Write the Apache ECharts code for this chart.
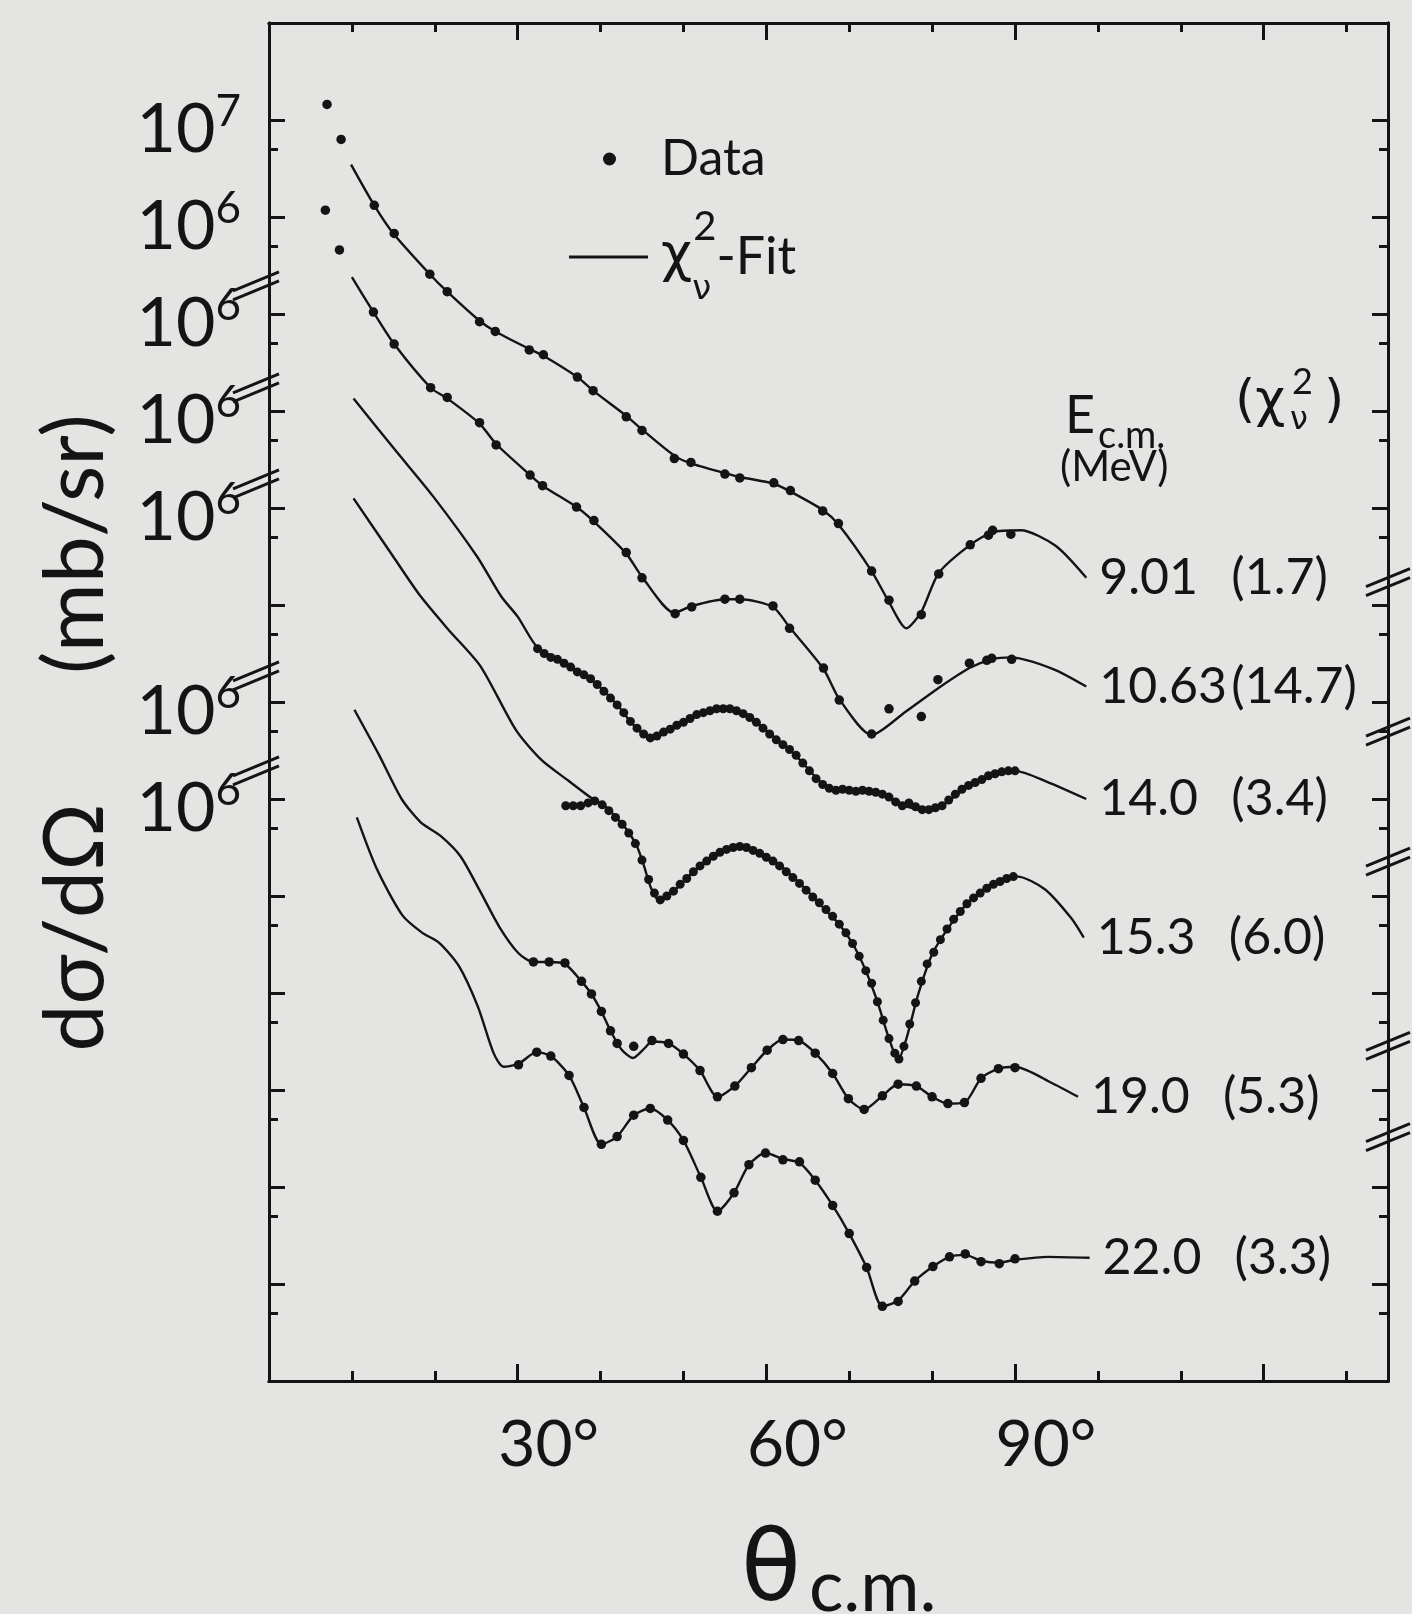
<!DOCTYPE html>
<html>
<head>
<meta charset="utf-8">
<script src="https://cdn.jsdelivr.net/npm/echarts@6/dist/echarts.min.js"></script>
<style>
  html, body { margin: 0; padding: 0; background: #e4e4e2; }
  #chart { width: 1412px; height: 1614px; }
</style>
</head>
<body>
<div id="chart"></div>
<script>
// theta c.m. in degrees, value = log10 of dσ/dΩ in mb/sr
const energies = ["9.01", "10.63", "14.0", "15.3", "19.0", "22.0"];
const chi2 = ["1.7", "14.7", "3.4", "6.0", "5.3", "3.3"];
// decades each curve is shifted up on the stacked axis
const offsets = [6, 5, 4, 3, 1, 0];

const dots901 = [[7.0,7.16],[8.7,6.80],[12.7,6.12],[15.1,5.83],[19.4,5.41],[21.5,5.23],[25.4,4.92],[27.3,4.82],[31.4,4.63],[33.1,4.58],[37.2,4.35],[39.1,4.21],[43.1,3.94],[45.0,3.80],[48.9,3.51],[50.9,3.47],[55.0,3.35],[56.8,3.31],[60.9,3.26],[62.9,3.18],[66.8,2.97],[68.7,2.84],[72.7,2.35],[74.8,2.05],[78.7,1.90],[80.8,2.32],[84.6,2.62],[86.8,2.72],[87.3,2.77],[89.5,2.73]];
const fit901 = [[9.9,6.54],[12.7,6.12],[15.0,5.83],[19.4,5.41],[21.5,5.23],[25.4,4.93],[27.3,4.82],[31.4,4.64],[33.1,4.57],[37.2,4.35],[39.1,4.21],[43.1,3.95],[45.0,3.81],[48.9,3.54],[50.9,3.46],[55.0,3.36],[56.8,3.32],[60.9,3.25],[62.9,3.17],[66.8,2.98],[68.7,2.83],[72.7,2.35],[74.8,2.03],[76.9,1.76],[78.7,1.93],[80.8,2.33],[84.6,2.62],[87.3,2.75],[90.7,2.77],[94.9,2.61],[98.6,2.28]];

const dots1063 = [[6.8,7.07],[8.5,6.66],[12.6,6.02],[15.1,5.69],[19.5,5.24],[21.5,5.14],[25.4,4.88],[27.4,4.65],[31.5,4.34],[33.0,4.23],[37.1,4.01],[39.2,3.87],[43.1,3.54],[45.0,3.28],[49.0,2.91],[51.0,2.98],[55.0,3.06],[56.8,3.06],[60.8,2.99],[62.8,2.76],[66.9,2.35],[68.8,2.02],[72.7,1.67],[74.8,1.93],[78.7,1.85],[80.7,2.23],[84.5,2.40],[86.6,2.43],[87.2,2.45],[89.6,2.44]];
const fit1063 = [[10.0,6.38],[12.6,6.02],[15.1,5.69],[19.5,5.24],[21.5,5.13],[25.4,4.87],[27.4,4.66],[31.5,4.34],[33.0,4.23],[37.1,4.01],[39.2,3.86],[43.1,3.53],[45.0,3.29],[48.9,2.92],[51.0,2.99],[55.0,3.06],[56.8,3.06],[60.8,2.98],[62.8,2.77],[66.9,2.34],[68.8,2.03],[72.7,1.66],[76.8,1.90],[80.7,2.14],[84.5,2.35],[87.2,2.44],[89.5,2.46],[94.6,2.34],[98.6,2.16]];

const dots140 = [[32.4,3.55],[33.2,3.50],[34.0,3.46],[34.8,3.44],[35.6,3.40],[36.4,3.36],[37.2,3.31],[38.0,3.28],[38.8,3.24],[39.6,3.18],[40.4,3.11],[41.2,3.04],[42.0,2.97],[42.8,2.89],[43.6,2.80],[44.4,2.73],[45.2,2.67],[46.0,2.63],[46.8,2.65],[47.6,2.69],[48.4,2.72],[49.2,2.76],[50.0,2.79],[50.8,2.83],[51.6,2.87],[52.4,2.89],[53.2,2.91],[54.0,2.93],[54.8,2.93],[55.6,2.93],[56.4,2.91],[57.2,2.88],[58.0,2.84],[58.8,2.79],[59.6,2.73],[60.4,2.67],[61.2,2.61],[62.0,2.56],[62.8,2.51],[63.6,2.45],[64.4,2.37],[65.2,2.29],[66.0,2.21],[66.8,2.15],[67.6,2.11],[68.4,2.09],[69.2,2.10],[70.0,2.09],[70.8,2.08],[71.6,2.09],[72.4,2.08],[73.2,2.07],[74.0,2.05],[74.8,2.02],[75.6,1.97],[76.4,1.93],[77.2,1.96],[78.0,1.92],[78.8,1.89],[79.6,1.89],[80.4,1.91],[81.2,1.93],[82.0,1.99],[82.8,2.05],[83.6,2.10],[84.4,2.14],[85.2,2.17],[86.0,2.20],[86.8,2.24],[87.6,2.26],[88.4,2.28],[89.2,2.29],[90.0,2.29]];
const fit140 = [[10.2,6.13],[15.1,5.61],[19.8,5.12],[25.1,4.50],[28.0,4.09],[30.0,3.88],[32.4,3.56],[35.6,3.40],[38.4,3.26],[40.7,3.09],[42.3,2.94],[43.9,2.77],[45.9,2.63],[47.5,2.68],[49.9,2.78],[52.3,2.88],[55.0,2.93],[57.5,2.88],[59.8,2.72],[63.4,2.46],[66.6,2.17],[68.2,2.09],[70.4,2.09],[74.2,2.05],[76.3,1.94],[79.0,1.89],[81.2,1.93],[84.0,2.11],[87.3,2.26],[90.0,2.29],[93.8,2.18],[98.6,2.00]];

const dots153 = [[35.8,2.93],[36.7,2.93],[37.6,2.93],[38.5,2.96],[39.3,2.98],[40.2,2.94],[41.0,2.88],[41.8,2.81],[42.6,2.74],[43.4,2.65],[44.2,2.54],[45.0,2.37],[45.8,2.17],[46.5,2.03],[47.2,1.96],[48.0,2.00],[48.8,2.05],[49.6,2.12],[50.4,2.18],[51.2,2.25],[52.0,2.31],[52.8,2.36],[53.6,2.41],[54.4,2.45],[55.2,2.48],[56.0,2.50],[56.8,2.51],[57.6,2.50],[58.4,2.47],[59.2,2.44],[60.0,2.40],[60.8,2.36],[61.6,2.31],[62.4,2.25],[63.2,2.19],[64.0,2.13],[64.8,2.06],[65.6,1.99],[66.4,1.93],[67.2,1.86],[68.0,1.79],[68.8,1.71],[69.6,1.62],[70.4,1.51],[71.2,1.38],[72.0,1.23],[72.7,1.10],[73.4,0.91],[74.1,0.72],[74.8,0.53],[75.5,0.38],[76.0,0.32],[76.6,0.45],[77.3,0.68],[78.0,0.90],[78.7,1.12],[79.4,1.30],[80.2,1.42],[81.0,1.55],[81.8,1.66],[82.6,1.76],[83.4,1.84],[84.2,1.92],[85.0,1.98],[85.8,2.03],[86.6,2.08],[87.4,2.12],[88.2,2.15],[89.0,2.18],[89.8,2.20]];
const fit153 = [[10.2,6.10],[14.9,5.51],[18.2,5.10],[21.6,4.75],[25.5,4.37],[29.8,3.71],[32.9,3.40],[36.1,3.19],[38.9,3.01],[40.5,2.93],[42.1,2.79],[43.2,2.68],[44.4,2.51],[45.2,2.32],[46.1,2.08],[47.1,1.95],[49.2,2.08],[51.2,2.25],[53.2,2.38],[55.3,2.48],[57.3,2.50],[59.3,2.44],[61.3,2.34],[63.2,2.20],[65.2,2.03],[67.2,1.85],[68.8,1.71],[70.4,1.51],[72.0,1.23],[73.4,0.91],[74.8,0.53],[75.9,0.31],[76.9,0.53],[78.3,0.98],[80.0,1.40],[82.1,1.69],[84.3,1.93],[87.1,2.11],[90.3,2.20],[93.6,2.07],[96.8,1.77],[98.3,1.57]];

const dots190 = [[31.9,3.32],[33.8,3.32],[35.7,3.31],[37.7,3.12],[38.9,2.99],[40.1,2.81],[41.2,2.61],[42.0,2.48],[44.0,2.45],[46.2,2.51],[48.2,2.48],[50.0,2.37],[52.0,2.20],[54.1,1.93],[56.2,2.04],[58.2,2.23],[60.1,2.41],[62.0,2.52],[63.9,2.51],[65.9,2.38],[68.0,2.17],[69.9,1.91],[71.8,1.80],[74.0,1.94],[75.9,2.06],[78.1,2.04],[80.0,1.93],[81.9,1.86],[83.9,1.87],[85.9,2.12],[88.0,2.22],[90.0,2.23]];
const fit190 = [[10.3,5.92],[13.3,5.45],[16.0,5.00],[18.3,4.76],[20.7,4.62],[23.1,4.41],[25.4,4.06],[27.8,3.68],[30.1,3.41],[31.9,3.32],[33.8,3.32],[35.7,3.30],[37.7,3.12],[38.9,2.99],[40.1,2.81],[41.2,2.61],[42.5,2.42],[43.9,2.33],[45.3,2.43],[46.2,2.50],[48.2,2.48],[50.0,2.37],[52.0,2.20],[54.1,1.93],[56.2,2.04],[58.2,2.23],[60.1,2.41],[62.0,2.52],[63.9,2.51],[65.9,2.38],[68.0,2.17],[69.9,1.91],[71.8,1.80],[74.0,1.94],[75.9,2.06],[78.1,2.04],[80.0,1.93],[81.9,1.86],[83.9,1.87],[85.9,2.12],[88.0,2.22],[90.0,2.24],[94.5,2.07],[97.6,1.93]];

const dots220 = [[30.1,3.26],[32.3,3.39],[34.0,3.35],[36.2,3.15],[38.0,2.82],[40.1,2.44],[42.0,2.52],[44.0,2.74],[46.0,2.81],[48.1,2.69],[50.0,2.48],[52.1,2.10],[54.1,1.75],[56.1,1.94],[57.9,2.23],[59.9,2.35],[62.0,2.28],[64.0,2.26],[65.9,2.07],[68.0,1.81],[70.0,1.52],[72.1,1.17],[74.0,0.77],[75.9,0.82],[77.9,1.03],[80.1,1.18],[82.1,1.28],[84.0,1.31],[85.9,1.23],[88.1,1.21],[90.0,1.26]];
const fit220 = [[10.6,5.81],[13.0,5.28],[16.1,4.80],[18.5,4.62],[20.5,4.52],[22.9,4.28],[25.2,3.86],[27.1,3.38],[28.3,3.24],[30.1,3.27],[32.3,3.39],[34.0,3.35],[36.2,3.15],[38.0,2.82],[40.1,2.44],[42.0,2.52],[44.0,2.74],[46.0,2.81],[48.1,2.69],[50.0,2.48],[52.1,2.10],[54.1,1.75],[56.1,1.94],[57.9,2.23],[59.9,2.35],[62.0,2.29],[64.0,2.25],[65.9,2.07],[68.0,1.81],[70.0,1.52],[72.1,1.17],[74.0,0.77],[75.9,0.83],[77.9,1.03],[80.1,1.18],[82.1,1.28],[84.0,1.30],[85.9,1.24],[88.1,1.22],[90.0,1.25],[94.0,1.28],[99.0,1.27]];

// axis decorations (axis units: degrees / stacked decades)
const xMajor = [30, 60, 90, 120];
const xMinor = [10, 20, 40, 50, 70, 80, 100, 110, 130];
const xLabels = [30, 60, 90];
const yMajor = [1, 2, 3, 4, 5, 6, 7, 8, 9, 10, 11, 12, 13];
const yMinor = [0.7, 1.7, 2.7, 3.7, 4.7, 5.7, 6.7, 7.7, 8.7, 9.7, 10.7, 11.7, 12.7];
const yLabelPos = [13, 12, 11, 10, 9, 7, 6];
const yLabelExp = [7, 6, 6, 6, 6, 6, 6];
const leftBreaks = [11.31, 10.26, 9.27, 7.29, 6.31];
const rightBreaks = [8.23, 6.69, 5.35, 3.45, 2.51];

const ink = "#141414";
const font = "Lato, 'DejaVu Sans', sans-serif";

const curves = [
  { dots: dots901, fit: fit901, size: 9.5 },
  { dots: dots1063, fit: fit1063, size: 9.5 },
  { dots: dots140, fit: fit140, size: 9 },
  { dots: dots153, fit: fit153, size: 9 },
  { dots: dots190, fit: fit190, size: 9.5 },
  { dots: dots220, fit: fit220, size: 9.5 },
];

const series = [];
curves.forEach((c, i) => {
  const shift = (p) => [p[0], p[1] + offsets[i]];
  series.push({
    type: "line",
    name: "Fit",
    data: c.fit.map(shift),
    showSymbol: false,
    smooth: 0.25,
    color: ink,
    lineStyle: { color: ink, width: 2.4 },
    silent: true,
    z: 2,
    endLabel: {
      show: true,
      distance: 13,
      color: ink,
      formatter: () => `{e|${energies[i]}}{c|(${chi2[i]})}`,
      rich: {
        e: { fontFamily: font, fontSize: 50, width: 132, color: ink },
        c: { fontFamily: font, fontSize: 50, color: ink },
      },
    },
  });
  series.push({
    type: "scatter",
    name: "Data",
    data: c.dots.map(shift),
    symbolSize: c.size,
    color: ink,
    itemStyle: { color: ink, opacity: 1 },
    silent: true,
    z: 3,
  });
});

const line = { show: true, onZero: false, lineStyle: { color: ink, width: 3 } };
const tick = (values, length) => ({
  show: true, inside: true, length, customValues: values,
  lineStyle: { color: ink, width: 3 },
});
const xBase = { type: "value", min: 0, max: 135, gridIndex: 0, splitLine: { show: false }, axisLine: line };
const yBase = { type: "value", min: 0, max: 14, gridIndex: 0, splitLine: { show: false }, axisLine: line };

const chart = echarts.init(document.getElementById("chart"));
chart.setOption({
  animation: false,
  backgroundColor: "#e4e4e2",
  grid: { left: 269, right: 24, top: 23, bottom: 233 },
  legend: [
    {
      data: [{ name: "Data", icon: "circle", itemStyle: { opacity: 1 } }],
      left: 598, top: 124,
      itemWidth: 13, itemHeight: 13,
      selectedMode: false,
      textStyle: { fontFamily: font, fontSize: 50, lineHeight: 60, color: ink, padding: [0, 0, 0, 40] },
    },
    {
      data: [{ name: "Fit", icon: "rect" }],
      left: 564, top: 202,
      itemWidth: 79, itemHeight: 3,
      selectedMode: false,
      formatter: () => "{c|χ}{s|ν}{p|2}{t|-Fit}",
      textStyle: {
        color: ink,
        rich: {
          c: { fontFamily: "'DejaVu Sans'", fontSize: 54, lineHeight: 100, verticalAlign: "middle", padding: [0, 0, 0, 8], color: ink },
          s: { fontFamily: "'DejaVu Sans'", fontSize: 34, lineHeight: 60, verticalAlign: "bottom", width: 1, color: ink },
          p: { fontFamily: font, fontSize: 40, lineHeight: 30, verticalAlign: "top", color: ink },
          t: { fontFamily: font, fontSize: 52, lineHeight: 60, verticalAlign: "middle", color: ink },
        },
      },
    },
  ],
  xAxis: [
    Object.assign({}, xBase, {
      position: "bottom",
      axisTick: tick(xMajor, 17),
      axisLabel: {
        show: true, customValues: xLabels, margin: 32,
        formatter: (v) => v + "°",
        fontFamily: font, fontSize: 64, lineHeight: 64, color: ink,
        padding: [0, 0, 0, 62],
      },
    }),
    Object.assign({}, xBase, { position: "bottom", axisTick: tick(xMinor, 10), axisLabel: { show: false } }),
    Object.assign({}, xBase, { position: "top", axisTick: tick(xMajor, 17), axisLabel: { show: false } }),
    Object.assign({}, xBase, { position: "top", axisTick: tick(xMinor, 9), axisLabel: { show: false } }),
  ],
  yAxis: [
    Object.assign({}, yBase, {
      position: "left",
      axisTick: tick(yMajor, 16),
      axisLabel: {
        show: true, customValues: yLabelPos, margin: 28,
        padding: [20, 0, 0, 0],
        formatter: (v) => `{b|10}{s|${yLabelExp[yLabelPos.indexOf(v)]}}`,
        rich: {
          b: { fontFamily: font, fontSize: 68, lineHeight: 80, verticalAlign: "middle", color: ink },
          s: { fontFamily: font, fontSize: 44, lineHeight: 44, verticalAlign: "top", color: ink },
        },
      },
    }),
    Object.assign({}, yBase, { position: "left", axisTick: tick(yMinor, 9), axisLabel: { show: false } }),
    Object.assign({}, yBase, { position: "right", axisTick: tick(yMajor, 16), axisLabel: { show: false } }),
    Object.assign({}, yBase, { position: "right", axisTick: tick(yMinor, 9), axisLabel: { show: false } }),
  ],
  series,
});

// texts and axis-break marks, placed from the axis scales
const leftX = chart.convertToPixel({ xAxisIndex: 0 }, 0);
const rightX = chart.convertToPixel({ xAxisIndex: 0 }, 135);
const yPx = (v) => chart.convertToPixel({ yAxisIndex: 0 }, v);
const txt = (text, x, y, size, extra) => ({
  type: "text", x, y, silent: true,
  style: Object.assign({ text, fill: ink, fontFamily: font, fontSize: size, align: "left", verticalAlign: "middle" }, extra || {}),
});
const graphic = [
  txt("dσ/dΩ      (mb/sr)", 76, 733, 84, { align: "center" }),
  txt("E", 1065, 416, 52),
  txt("c.m.", 1098, 436, 38),
  txt("(MeV)", 1060, 467, 42),
  txt("(χ", 1235, 402, 52, { fontFamily: "'DejaVu Sans'" }),
  txt("2", 1292, 382, 36),
  txt("ν", 1290, 421, 32, { fontFamily: "'DejaVu Sans'" }),
  txt(")", 1324, 402, 52, { fontFamily: "'DejaVu Sans'" }),
  {
    type: "text", x: 741, y: 1624, silent: true,
    style: {
      text: "{t|θ}{s|c.m.}", fill: ink, verticalAlign: "bottom", align: "left",
      rich: {
        t: { fontFamily: "'DejaVu Sans'", fontSize: 98, lineHeight: 110, verticalAlign: "bottom", fill: ink },
        s: { fontFamily: font, fontSize: 72, lineHeight: 80, verticalAlign: "bottom", padding: [0, 0, 0, 8], fill: ink },
      },
    },
  },
];
graphic[0].rotation = Math.PI / 2;
leftBreaks.forEach((b) => {
  const y = yPx(b);
  [-5, 4].forEach((d) => graphic.push({
    type: "line", silent: true,
    shape: { x1: leftX - 36, y1: y + d + 12, x2: leftX + 10, y2: y + d - 7 },
    style: { stroke: ink, lineWidth: 3 },
  }));
});
rightBreaks.forEach((b) => {
  const y = yPx(b);
  [-5, 4].forEach((d) => graphic.push({
    type: "line", silent: true,
    shape: { x1: rightX - 22, y1: y + d + 9, x2: rightX + 22, y2: y + d - 9 },
    style: { stroke: ink, lineWidth: 3 },
  }));
});
chart.setOption({ graphic });
</script>
</body>
</html>
